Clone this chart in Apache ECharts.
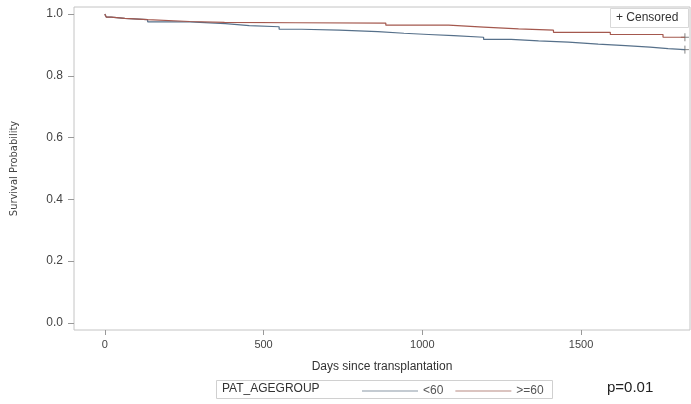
<!DOCTYPE html>
<html lang="en">
<head>
    <title>survival</title>
    <meta charset="utf-8">
</head>
<body style="margin:0">
<script type="text/javascript" src="https://cdn.jsdelivr.net/npm/echarts@6/dist/echarts.min.js"></script>
<div id="main" style="width: 691px;height: 404px"></div>
<script type="text/javascript">
    // Kaplan-Meier steps: [days, survival]
    var under60 = [[0, 1.0], [5, 0.99], [20, 0.986], [63, 0.982], [135, 0.975], [267, 0.969], [380, 0.963],
        [455, 0.959], [549, 0.951], [620, 0.948], [738, 0.943], [860, 0.938], [942, 0.934], [1020, 0.93],
        [1099, 0.925], [1193, 0.918], [1280, 0.913], [1366, 0.909], [1460, 0.903], [1554, 0.898],
        [1640, 0.893], [1717, 0.888], [1774, 0.885], [1827, 0.885]];
    var over60 = [[0, 1.0], [5, 0.99], [20, 0.986], [63, 0.982], [135, 0.976], [267, 0.973], [377, 0.972],
        [600, 0.971], [885, 0.964], [1083, 0.958], [1193, 0.952], [1303, 0.948], [1413, 0.941],
        [1592, 0.934], [1758, 0.925], [1827, 0.925]];
    var censored = [[1827, 0.885], [1827, 0.925]];
    var groups = ['<60', '>=60'];
    var xTicks = [0, 500, 1000, 1500];
    var yTicks = [0, 0.2, 0.4, 0.6, 0.8, 1.0];

    var blue = '#56708a';
    var red = '#a4584e';
    var plus = 'path://M5,0 L5,10 M0,5 L10,5';

    var myChart = echarts.init(document.getElementById('main'));
    var option = {
        animation: false,
        grid: {
            left: 74, top: 7, right: 1, bottom: 74,
            show: true, borderColor: '#c4c4c4', borderWidth: 1
        },
        legend: {
            data: [
                {name: groups[0], icon: 'rect', itemStyle: {color: '#8a97a6'}},
                {name: groups[1], icon: 'rect', itemStyle: {color: '#b88a82'}}
            ],
            left: 357, top: 380,
            itemWidth: 56, itemHeight: 1, itemGap: 12,
            textStyle: {fontFamily: 'Liberation Sans', fontSize: 12, color: '#555'}
        },
        xAxis: {
            type: 'value', min: -97, max: 1843,
            name: 'Days since transplantation', nameLocation: 'middle', nameGap: 31,
            nameTextStyle: {fontFamily: 'Liberation Sans', fontSize: 12, color: '#333'},
            splitLine: {show: false},
            axisLine: {show: false, onZero: false},
            axisTick: {show: true, length: 5, customValues: xTicks, lineStyle: {color: '#999'}},
            axisLabel: {
                customValues: xTicks, margin: 9, fontFamily: 'Liberation Sans', fontSize: 11, color: '#444',
                formatter: function (v) { return String(v); }
            }
        },
        yAxis: {
            type: 'value', min: -0.023, max: 1.023,
            name: 'Survival Probability', nameLocation: 'middle', nameGap: 54,
            nameTextStyle: {fontFamily: 'DejaVu Sans Condensed, Liberation Sans, sans-serif', fontSize: 11, color: '#444'},
            splitLine: {show: false},
            axisLine: {show: false, onZero: false},
            axisTick: {show: true, length: 6, customValues: yTicks, lineStyle: {color: '#999'}},
            axisLabel: {
                customValues: yTicks, margin: 11, fontFamily: 'Liberation Sans', fontSize: 12, color: '#444',
                formatter: function (v) { return v.toFixed(1); }
            }
        },
        graphic: [
            {
                type: 'rect', left: 216, top: 380,
                shape: {width: 336, height: 18},
                style: {fill: '#fff', stroke: '#d0d0d0', lineWidth: 1}, z: -1
            },
            {
                type: 'text', left: 222, top: 383,
                style: {text: 'PAT_AGEGROUP', fontFamily: 'Liberation Sans', fontSize: 12, fill: '#333'}
            },
            {
                type: 'text', left: 607, top: 380,
                style: {text: 'p=0.01', fontFamily: 'Liberation Sans', fontSize: 15, fill: '#222'}
            },
            {
                type: 'rect', left: 610, top: 8,
                shape: {width: 78, height: 19},
                style: {fill: '#fff', stroke: '#d8d8d8', lineWidth: 1}
            },
            {
                type: 'text', left: 616, top: 12,
                style: {text: '+ Censored', fontFamily: 'Liberation Sans', fontSize: 12, fill: '#333'}
            }
        ],
        series: [
            {
                name: groups[0], type: 'line', step: 'end', symbol: 'none',
                color: blue, lineStyle: {width: 1.2, color: blue},
                data: under60
            },
            {
                name: groups[1], type: 'line', step: 'end', symbol: 'none',
                color: red, lineStyle: {width: 1.2, color: red},
                data: over60
            },
            {
                name: 'Censored', type: 'scatter', symbol: plus, symbolSize: 8,
                itemStyle: {color: 'none', borderColor: '#666', borderWidth: 1},
                data: censored
            }
        ]
    };
    myChart.setOption(option);
</script>
</body>
</html>
